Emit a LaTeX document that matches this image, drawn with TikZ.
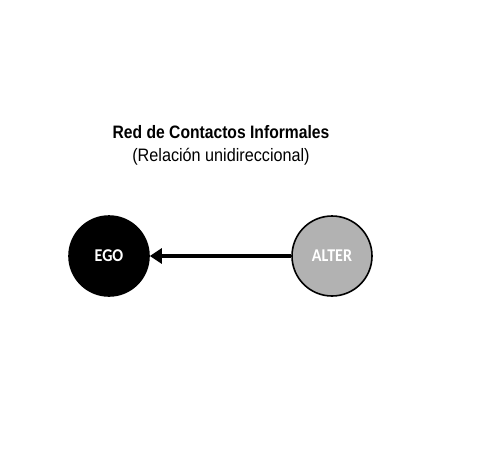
\documentclass[tikz,border=0pt]{standalone}
\usepackage{fontspec}
\setmainfont{Liberation Sans}
\newfontfamily\titlefont[FakeStretch=0.87]{Liberation Sans}
\newfontfamily\subtitlefont[FakeStretch=0.9]{Liberation Sans}
\newfontfamily\actorfont[FakeStretch=0.89]{Carlito}
\usetikzlibrary{arrows.meta}
\tikzset{
  actor/.style={circle,draw=black,line width=1.6pt,minimum size=80pt,inner sep=0pt,text=white,font=\actorfont\bfseries\fontsize{18}{18}\selectfont},
  tie/.style={line width=3.5pt,-{Triangle[length=12pt,width=15pt]}}
}
\begin{document}
\begin{tikzpicture}[x=1pt,y=-1pt]
\useasboundingbox[fill=white] (0,0) rectangle (480,474);

% titles
\node[font=\titlefont\bfseries\fontsize{18}{18}\selectfont] (title) at (221,132) {Red de Contactos Informales};
\node[font=\subtitlefont\fontsize{18}{18}\selectfont] (subtitle) at (221,157) {(Relación unidireccional)};

% actors
\node[actor,fill=black] (ego) at (109,256) {EGO};
\node[actor,fill=gray!60] (alter) at (332,256) {ALTER};
\draw[tie] (alter) -- (ego);
\end{tikzpicture}
\end{document}
